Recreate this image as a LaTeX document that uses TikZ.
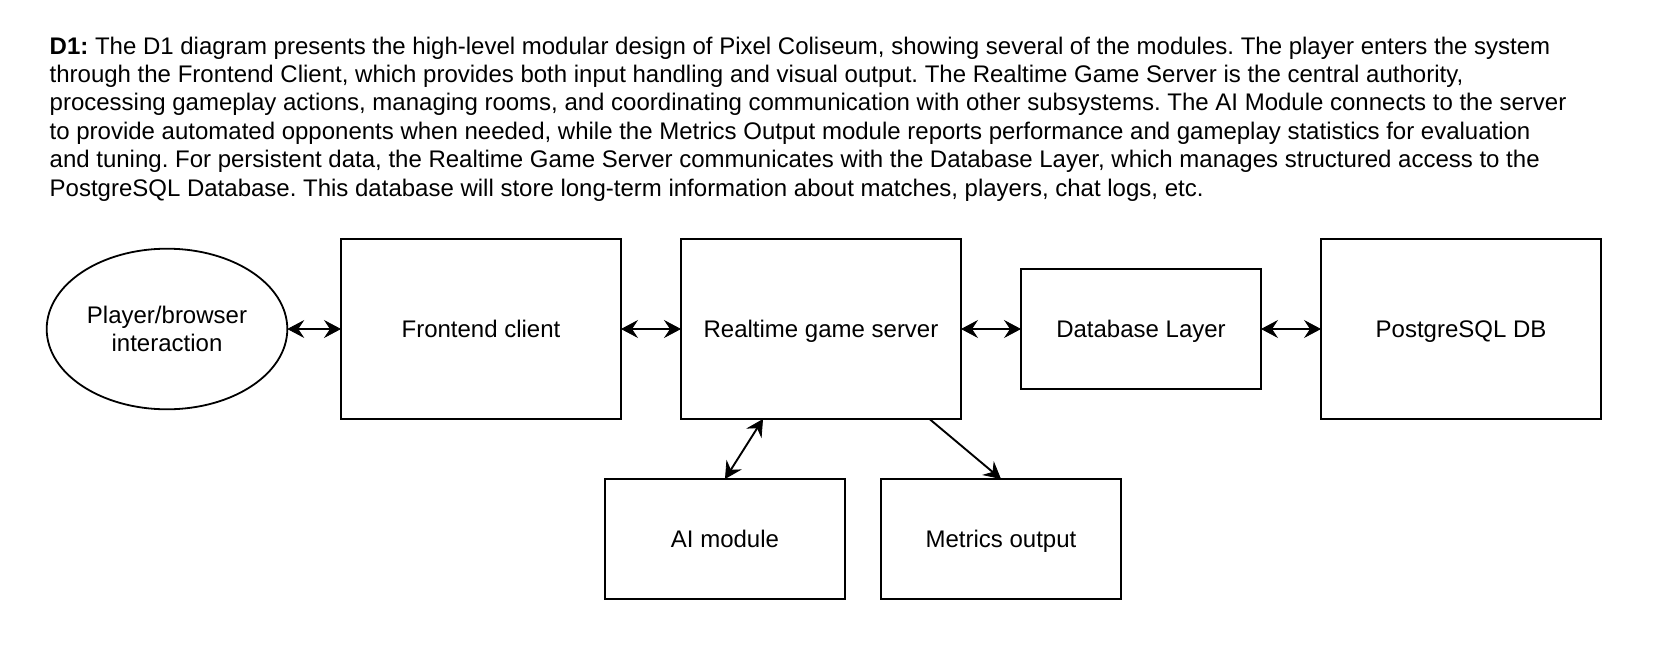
\documentclass[tikz,border=0pt]{standalone}
\usepackage{fontspec}
\setmainfont{Liberation Sans}
\usetikzlibrary{arrows.meta,shapes.geometric,calc}
\frenchspacing
\tikzset{
  hd/.tip={Stealth[length=17pt,width=18pt,inset=6pt,line width=0.8pt]},
  box/.style={draw=black,line width=2pt,rectangle,outer sep=0pt,inner sep=0pt,
    font=\fontsize{24}{28}\selectfont,text height=17.2pt,text depth=0pt},
  bigbox/.style={box,minimum width=280pt,minimum height=180pt},
  smallbox/.style={box,minimum width=240pt,minimum height=120pt},
  oval/.style={draw=black,line width=1.8pt,ellipse,outer sep=0pt,inner sep=0pt,
    minimum width=240.6pt,minimum height=160.6pt,align=center,
    font=\fontsize{24}{28}\selectfont},
  body/.style={anchor=base west,inner sep=0pt,font=\fontsize{24}{28.33}\selectfont},
  conn/.style={draw=black,line width=1.9pt}
}
\begin{document}
\frenchspacing
\begin{tikzpicture}[x=1pt,y=-1pt]
\useasboundingbox (0,0) rectangle (1656,650);
% description text
\node[body] (t1) at (49.5,54.3) {\textbf{D1:} The D1 diagram presents the high-level modular design of Pixel Coliseum, showing several of the modules. The player enters the system};
\node[body] (t2) at (49.5,82.6) {through the Frontend Client, which provides both input handling and visual output. The Realtime Game Server is the central authority,};
\node[body] (t3) at (49.5,111) {processing gameplay actions, managing rooms, and coordinating communication with other subsystems. The AI Module connects to the server};
\node[body] (t4) at (49.5,139.3) {to provide automated opponents when needed, while the Metrics Output module reports performance and gameplay statistics for evaluation};
\node[body] (t5) at (49.5,167.6) {and tuning. For persistent data, the Realtime Game Server communicates with the Database Layer, which manages structured access to the};
\node[body] (t6) at (49.5,196) {PostgreSQL Database. This database will store long-term information about matches, players, chat logs, etc.};
% nodes
\node[oval] (ell) at (167,329) {Player/browser\\interaction};
\node[bigbox] (fe) at (481,329) {Frontend client};
\node[bigbox] (rt) at (821,329) {Realtime game server};
\node[smallbox] (db) at (1141,329) {Database Layer};
\node[bigbox] (pg) at (1461,329) {PostgreSQL DB};
\node[smallbox] (ai) at (725,539) {AI module};
\node[smallbox] (mo) at (1001,539) {Metrics output};
% connectors
\draw[conn,{hd}-{hd}] (ell.east) -- (fe.west);
\draw[conn,{hd}-{hd}] (fe.east) -- (rt.west);
\draw[conn,{hd}-{hd}] (rt.east) -- (db.west);
\draw[conn,{hd}-{hd}] (db.east) -- (pg.west);
\draw[conn,{hd}-{hd}] ($(rt.south west)+(82,0)$) -- (ai.north);
\draw[conn,-{hd}] ($(rt.south west)+(248.5,0)$) -- (mo.north);
\end{tikzpicture}
\end{document}
